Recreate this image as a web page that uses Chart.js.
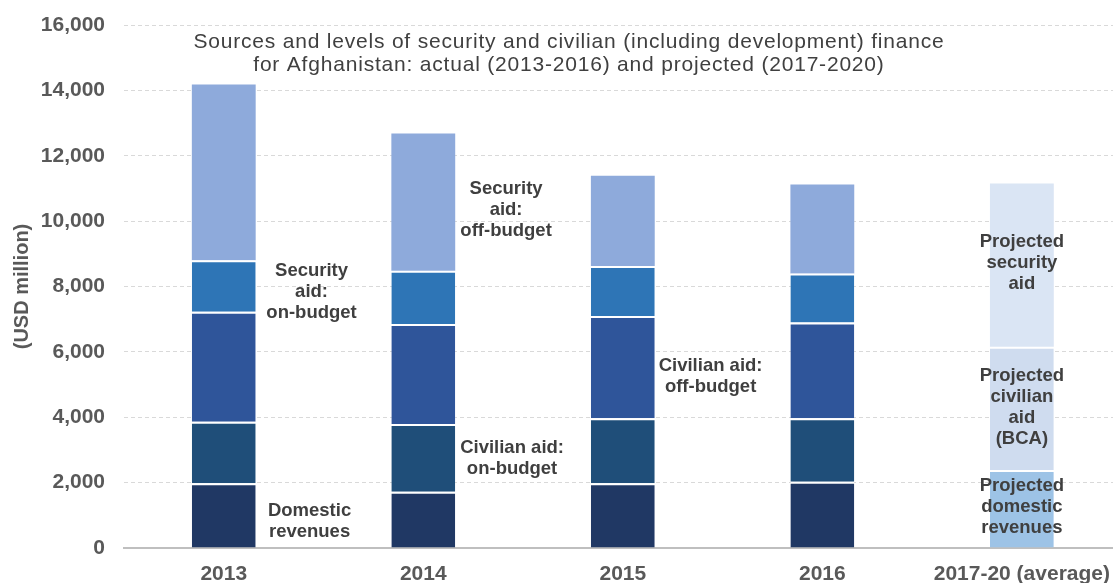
<!DOCTYPE html>
<html>
<head>
<meta charset="utf-8">
<title>Afghanistan finance 2013-2020</title>
<script src="https://cdn.jsdelivr.net/npm/chart.js@4.4.0/dist/chart.umd.min.js"></script>
<style>
  html, body { margin: 0; padding: 0; background: #fff; overflow: hidden; }
  #wrap { width: 1124px; height: 583px; }
</style>
</head>
<body>
<div id="wrap"><canvas id="financeChart" width="1124" height="583"></canvas></div>
<script>
const years = ['2013', '2014', '2015', '2016', '2017-20 (average)'];

// USD million per segment, stacked bottom to top; last column is projections only
const domesticRevenues  = [1980, 1720, 1980, 2030, null];
const civilianOnBudget  = [1880, 2070, 1990, 1940, null];
const civilianOffBudget = [3370, 3060, 3130, 2930, null];
const securityOnBudget  = [1570, 1630, 1530, 1500, null];
const securityOffBudget = [5380, 4200, 2760, 2720, null];
const projectedDomestic = [null, null, null, null, 2390];
const projectedCivilian = [null, null, null, null, 3770];
const projectedSecurity = [null, null, null, null, 4990];

const yTicks = [0, 2000, 4000, 6000, 8000, 10000, 12000, 14000, 16000];

const titleLines = [
  'Sources and levels of security and civilian (including development) finance',
  'for Afghanistan: actual (2013-2016) and projected (2017-2020)'
];

// callout labels, anchored in axis units (category index, USD million)
const notes = [
  { lines: ['Domestic', 'revenues'], at: 0.43, val: 800 },
  { lines: ['Security', 'aid:', 'on-budget'], at: 0.44, val: 7830 },
  { lines: ['Security', 'aid:', 'off-budget'], at: 1.415, val: 10340 },
  { lines: ['Civilian aid:', 'on-budget'], at: 1.445, val: 2750 },
  { lines: ['Civilian aid:', 'off-budget'], at: 2.44, val: 5260 },
  { lines: ['Projected', 'security', 'aid'], at: 4, val: 8716 },
  { lines: ['Projected', 'civilian', 'aid', '(BCA)'], at: 4, val: 4312 },
  { lines: ['Projected', 'domestic', 'revenues'], at: 4, val: 1254 }
];

const sepTop = { top: 2, right: 0, bottom: 0, left: 0 };

function series(label, data, color, border) {
  return {
    label: label,
    data: data,
    backgroundColor: color,
    borderColor: '#ffffff',
    borderWidth: border ? sepTop : 0,
    stack: 'total'
  };
}

const chartText = {
  id: 'chartText',
  afterDraw(chart) {
    const { ctx, scales: { x, y } } = chart;
    ctx.save();
    ctx.textAlign = 'center';
    ctx.textBaseline = 'middle';

    // heading sits inside the plot, under the top gridline
    ctx.fillStyle = '#404040';
    ctx.font = '21px "Liberation Sans Narrow", "Arial Narrow", "Liberation Sans", sans-serif';
    ctx.letterSpacing = '0.8px';
    const tx = x.getPixelForValue(1.73);
    const ty = y.getPixelForValue(15474);
    titleLines.forEach((t, i) => ctx.fillText(t, tx, ty + i * 23));
    ctx.letterSpacing = '0px';

    ctx.fillStyle = '#3f3f3f';
    ctx.font = 'bold 18.5px "Liberation Sans", Arial, sans-serif';
    notes.forEach(n => {
      const cx = x.getPixelForValue(n.at);
      const cy = y.getPixelForValue(n.val);
      const start = cy - (n.lines.length - 1) * 21 / 2;
      n.lines.forEach((t, i) => ctx.fillText(t, cx, start + i * 21));
    });
    ctx.restore();
  }
};

const ctx = document.getElementById('financeChart').getContext('2d');

new Chart(ctx, {
  type: 'bar',
  data: {
    labels: years,
    datasets: [
      series('Domestic revenues', domesticRevenues, '#203864', true),
      series('Civilian aid: on-budget', civilianOnBudget, '#1f4e79', true),
      series('Civilian aid: off-budget', civilianOffBudget, '#2f559a', true),
      series('Security aid: on-budget', securityOnBudget, '#2e75b6', true),
      series('Security aid: off-budget', securityOffBudget, '#8eaadb', false),
      series('Projected domestic revenues', projectedDomestic, '#9dc3e6', true),
      series('Projected civilian aid (BCA)', projectedCivilian, '#cfdcef', true),
      series('Projected security aid', projectedSecurity, '#dae5f4', false)
    ]
  },
  options: {
    responsive: false,
    devicePixelRatio: 1,
    animation: false,
    layout: { padding: { top: 25, right: 0, bottom: 0, left: 0 } },
    datasets: {
      bar: { categoryPercentage: 1, barPercentage: 0.32 }
    },
    plugins: {
      legend: { display: false },
      tooltip: { enabled: false },
      title: { display: false }
    },
    scales: {
      x: {
        stacked: true,
        grid: { display: false, drawTicks: false },
        border: { display: true, color: '#bfbfbf', width: 2 },
        ticks: {
          color: '#595959',
          font: { family: '"Liberation Sans", Arial, sans-serif', size: 21, weight: 'bold' },
          padding: 14,
          maxRotation: 0,
          autoSkip: false
        },
        afterFit: s => { s.height = 35; }
      },
      y: {
        stacked: true,
        min: 0,
        max: 16000,
        afterBuildTicks: s => { s.ticks = yTicks.map(v => ({ value: v })); },
        grid: { color: '#d9d9d9', lineWidth: 1, drawTicks: false },
        border: { display: false, dash: [4, 3] },
        ticks: {
          color: '#595959',
          // small lineHeight keeps the top label from pushing the plot down
          font: { family: '"Liberation Sans", Arial, sans-serif', size: 21, weight: 'bold', lineHeight: 0.3 },
          padding: 19,
          callback: v => v.toLocaleString('en-US')
        },
        title: {
          display: true,
          text: '(USD million)',
          color: '#595959',
          font: { family: '"Liberation Sans", Arial, sans-serif', size: 20, weight: 'bold' },
          padding: { top: 10, bottom: 0 }
        },
        afterFit: s => { s.width = 124; }
      }
    }
  },
  plugins: [chartText]
});
</script>
</body>
</html>
